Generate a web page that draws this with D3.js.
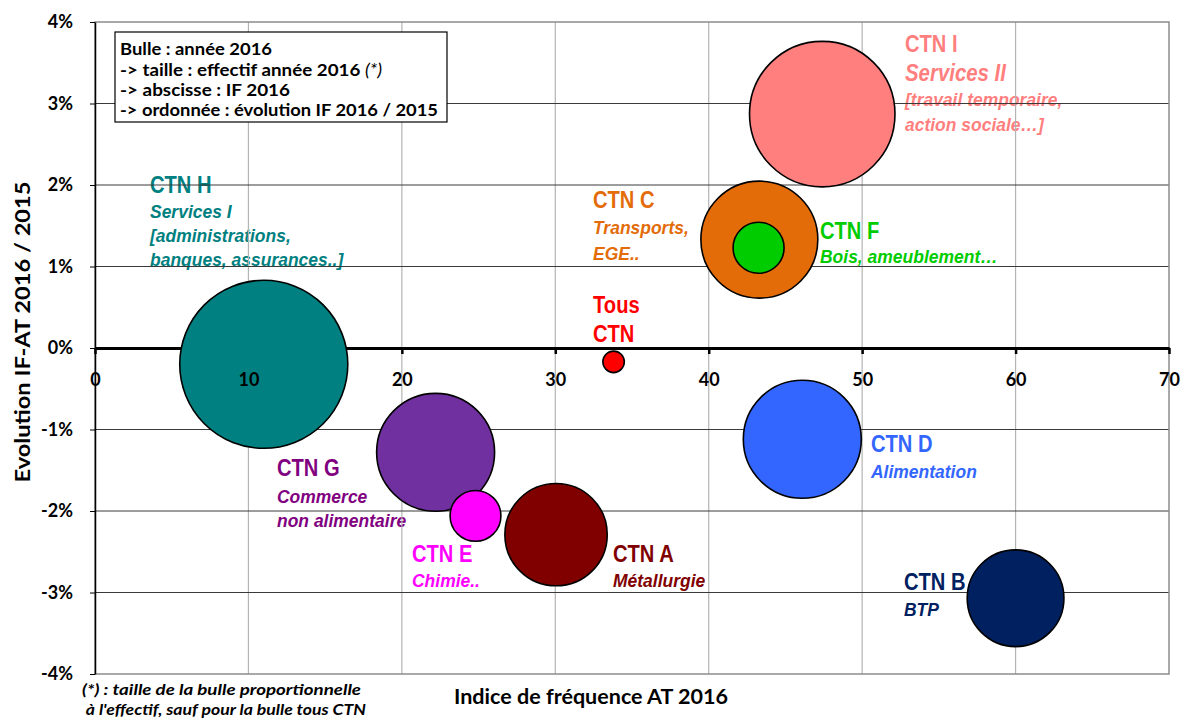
<!DOCTYPE html>
<html><head><meta charset="utf-8">
<script src="https://cdn.jsdelivr.net/npm/d3@7"></script>
<style>body{margin:0;background:#fff}</style>
</head><body>
<svg id="chart" width="1184" height="720"></svg>
<script>
// ---- data ----
const ctnNames = ["CTN I","CTN H","CTN C","CTN F","Tous CTN","CTN G","CTN E","CTN A","CTN D","CTN B"];
const ifValues = [47.4, 11.0, 43.3, 43.25, 33.8, 22.2, 24.8, 30.05, 46.1, 60.0];      // IF 2016
const evolValues = [2.87, -0.20, 1.33, 1.23, -0.17, -1.28, -2.06, -2.29, -1.12, -3.07]; // % evolution
const effectifValues = [52.9, 70.6, 34.2, 6.5, 1.15, 34.8, 6.45, 26.2, 34.8, 23.4];     // relative size
const bubbleColors = ["#FF7F7F","#008080","#E36C09","#00CC00","#FF0000","#7030A0","#FF00FF","#800000","#3366FF","#002060"];
const labelColors  = ["#FF7F7F","#008080","#E36C09","#00CC00","#FF0000","#800080","#FF00FF","#800000","#3366FF","#002060"];
const labelLines = [
  ["CTN I","Services II","[travail temporaire,","action sociale…]"],
  ["CTN H","Services I","[administrations,","banques, assurances..]"],
  ["CTN C","Transports,","EGE.."],
  ["CTN F","Bois, ameublement…"],
  ["Tous","CTN"],
  ["CTN G","Commerce","non alimentaire"],
  ["CTN E","Chimie.."],
  ["CTN A","Métallurgie"],
  ["CTN D","Alimentation"],
  ["CTN B","BTP"]
];
const xTicks = [0,10,20,30,40,50,60,70];
const yTicks = [-4,-3,-2,-1,0,1,2,3,4];
const legendLines = ["Bulle : année 2016","-> taille : effectif année 2016 ","-> abscisse : IF 2016","-> ordonnée : évolution IF 2016 / 2015"];
const xTitle = "Indice de fréquence AT 2016";
const yTitle = "Evolution IF-AT 2016 / 2015";
const footnote = ["(*) : taille de la bulle proportionnelle"," à l'effectif, sauf pour la bulle tous CTN"];

// label layout (left x, baselines)
const labelLayout = [
  {x:905, y:[52,81,106,131]},
  {x:150, y:[193,218,242,266]},
  {x:593, y:[208,234,260]},
  {x:820, y:[239,263]},
  {x:593, y:[313,342]},
  {x:277, y:[476,503,527]},
  {x:412, y:[562,587]},
  {x:613, y:[562,587]},
  {x:871, y:[452,478]},
  {x:904, y:[590,616]}
];

const svg = d3.select("#chart");
const W = 1184, H = 720;
const x = d3.scaleLinear().domain([0,70]).range([95,1169]);
const y = d3.scaleLinear().domain([-4,4]).range([674,22]);
const r = d3.scaleSqrt().domain([0,100]).range([0,100]);
const calibri = "Lato, 'Open Sans', sans-serif";
const arial = "'Liberation Sans', Arial, sans-serif";

svg.append("rect").attr("width",W).attr("height",H).attr("fill","#fff");

// ---- labels (below gridlines) ----
const lg = svg.append("g");
labelLines.forEach((lines,i)=>{
  const L = labelLayout[i];
  lines.forEach((t,j)=>{
    let size, sx, italic;
    if (j===0 || i===4) { size=24; sx=0.84; italic=false; }
    else if (i===0 && j===1) { size=24; sx=0.85; italic=true; }
    else { size=19; sx=0.92; italic=true; }
    lg.append("text")
      .attr("transform",`translate(${L.x},${L.y[j]}) scale(${sx},1)`)
      .attr("font-family",arial).attr("font-weight","bold")
      .attr("font-style",italic?"italic":"normal")
      .attr("font-size",size).attr("fill",labelColors[i]).text(t);
  });
});

// ---- grid ----
const grid = svg.append("g");
grid.selectAll(".vg").data(xTicks.filter(d=>d>0 && d<70)).join("line")
  .attr("x1",d=>x(d)).attr("x2",d=>x(d)).attr("y1",y(4)).attr("y2",y(-4))
  .attr("stroke","#b4b4b4").attr("stroke-width",1.2);
grid.selectAll(".hg").data(yTicks.filter(d=>d>-4 && d<4 && d!==0)).join("line")
  .attr("x1",x(0)).attr("x2",x(70)).attr("y1",d=>y(d)).attr("y2",d=>y(d))
  .attr("stroke","#3a3a3a").attr("stroke-width",1);
grid.append("rect").attr("x",x(0)).attr("y",y(4)).attr("width",x(70)-x(0)).attr("height",y(-4)-y(4))
  .attr("fill","none").attr("stroke","#8c8c8c").attr("stroke-width",1.5);

// ---- axes lines ----
const xAxisLine = svg.append("g").attr("transform",`translate(0,${y(0)})`)
  .call(d3.axisBottom(x).tickValues(xTicks).tickSize(6).tickSizeOuter(0).tickFormat(""));
xAxisLine.select(".domain").attr("stroke","#000").attr("stroke-width",3);
xAxisLine.selectAll(".tick line").attr("stroke","#000").attr("stroke-width",2.5);

const yAxis = svg.append("g").attr("transform",`translate(${x(0)},0)`)
  .call(d3.axisLeft(y).tickValues(yTicks).tickSize(5).tickSizeOuter(0).tickPadding(17).tickFormat(d=>d+"%"));
yAxis.select(".domain").attr("stroke","#000").attr("stroke-width",1.5);
yAxis.selectAll(".tick line").attr("stroke","#000").attr("stroke-width",1);
yAxis.selectAll("text").attr("font-family",calibri).attr("font-weight","bold").attr("font-size",18).attr("fill","#000");

// ---- bubbles ----
const idx = d3.range(ctnNames.length).sort((a,b)=>effectifValues[b]-effectifValues[a]);
svg.append("g").selectAll("circle").data(idx).join("circle")
  .attr("cx",i=>x(ifValues[i])).attr("cy",i=>y(evolValues[i]))
  .attr("r",i=>r(effectifValues[i]))
  .attr("fill",i=>bubbleColors[i]).attr("stroke","#000").attr("stroke-width",1.6);

// ---- x tick labels (above bubbles) ----
const xLab = svg.append("g").attr("transform",`translate(0,${y(0)})`)
  .call(d3.axisBottom(x).tickValues(xTicks).tickSize(0).tickPadding(25));
xLab.select(".domain").remove();
xLab.selectAll("text").attr("font-family",calibri).attr("font-weight","bold").attr("font-size",18).attr("fill","#000");

// ---- legend box ----
const lgd = svg.append("g");
lgd.append("rect").attr("x",115).attr("y",32).attr("width",332).attr("height",90)
  .attr("fill","#fff").attr("stroke","#000").attr("stroke-width",1.2);
const lgBase = [55,76,96,116];
const lgLen = [152, 262, 170, 318];
legendLines.forEach((t,j)=>{
  const tx = lgd.append("text").attr("x",120).attr("y",lgBase[j])
    .attr("font-family",calibri).attr("font-weight","bold").attr("font-size",17).attr("fill","#000");
  tx.append("tspan").text(t);
  if (j===1) tx.append("tspan").attr("font-style","italic").attr("font-weight","normal").text("(*)");
  tx.attr("textLength",lgLen[j]).attr("lengthAdjust","spacingAndGlyphs");
});

// ---- titles ----
svg.append("text").attr("x",591).attr("y",704).attr("text-anchor","middle")
  .attr("font-family",calibri).attr("font-weight","bold").attr("font-size",21)
  .attr("textLength",274).attr("lengthAdjust","spacingAndGlyphs").text(xTitle);
svg.append("text").attr("transform","translate(30,332) rotate(-90)").attr("text-anchor","middle")
  .attr("font-family",calibri).attr("font-weight","bold").attr("font-size",21)
  .attr("textLength",301).attr("lengthAdjust","spacingAndGlyphs").text(yTitle);
svg.append("text").attr("x",82).attr("y",695).attr("font-family",calibri).attr("font-weight","bold")
  .attr("font-style","italic").attr("font-size",16).attr("textLength",279).attr("lengthAdjust","spacingAndGlyphs").text(footnote[0]);
svg.append("text").attr("x",82).attr("y",715).attr("font-family",calibri).attr("font-weight","bold")
  .attr("font-style","italic").attr("font-size",16).attr("textLength",284).attr("lengthAdjust","spacingAndGlyphs").attr("xml:space","preserve").text(footnote[1]);
</script>
</body></html>
